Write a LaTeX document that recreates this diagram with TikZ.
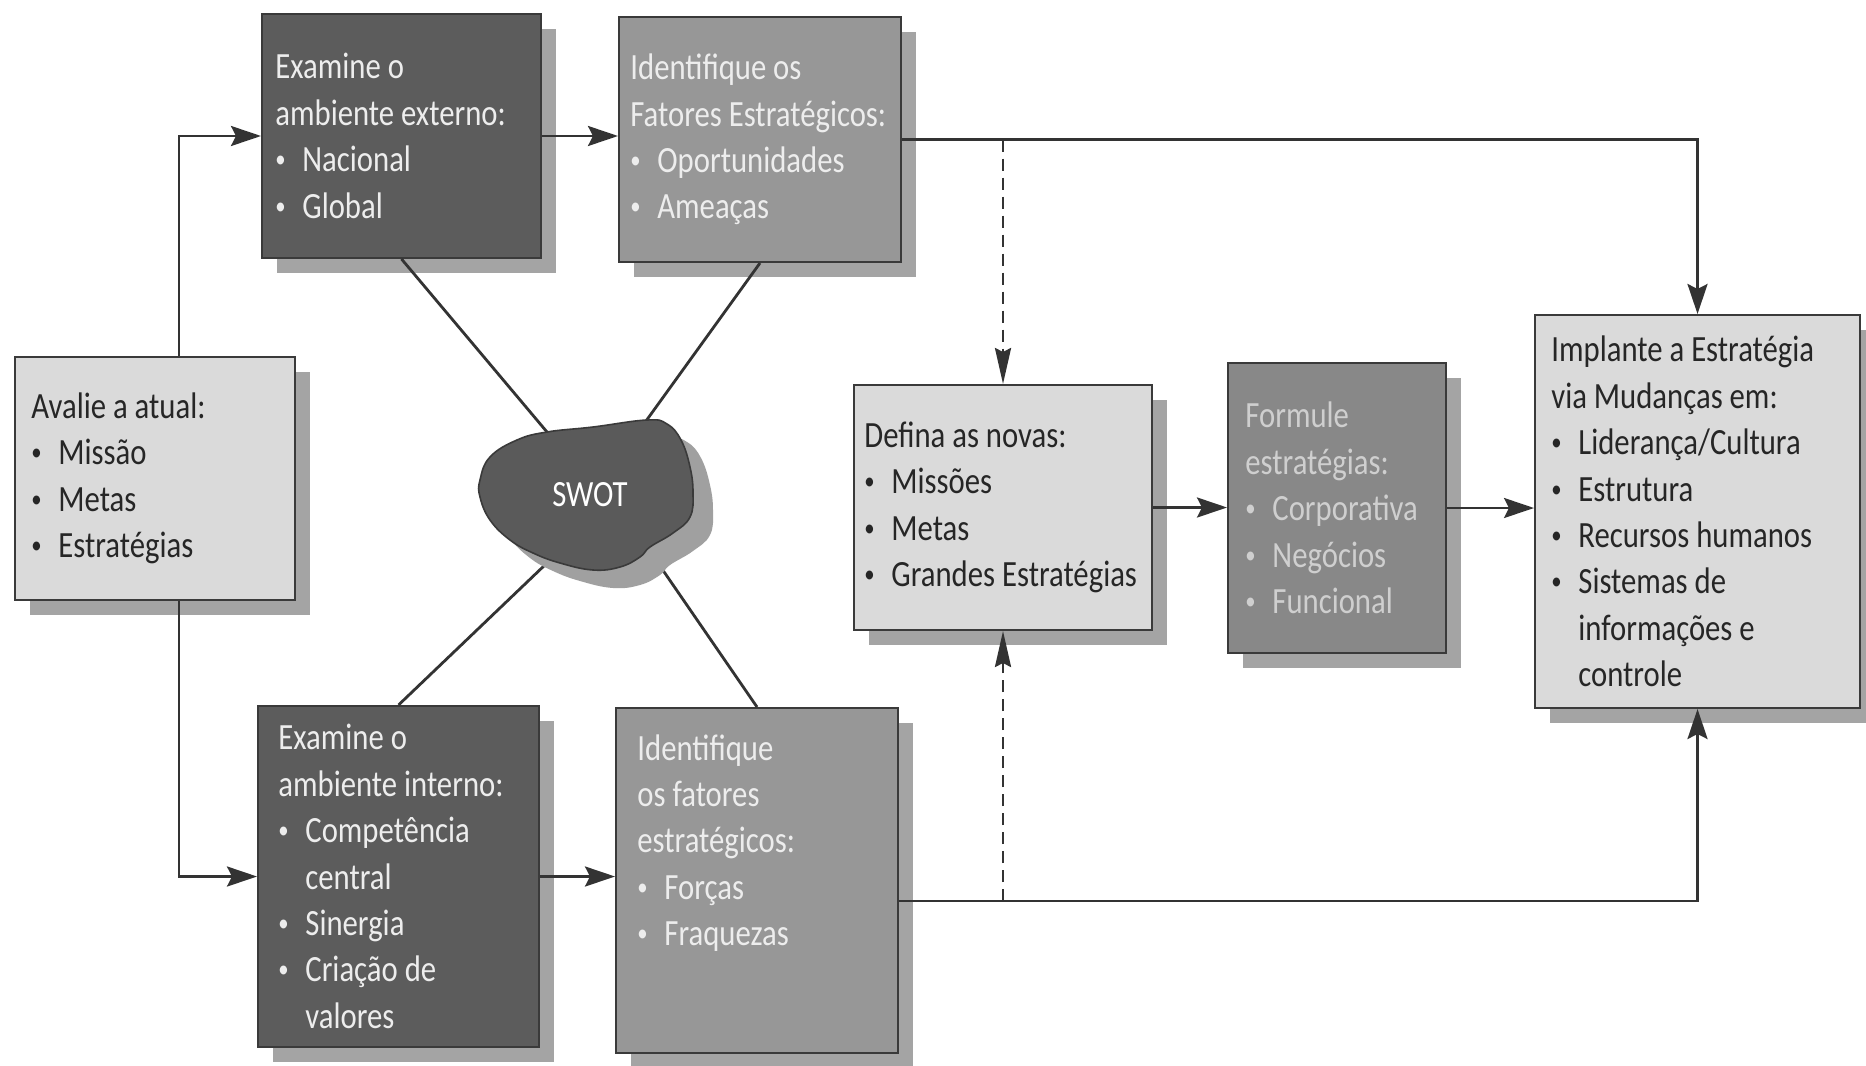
\documentclass[tikz,border=0pt]{standalone}
\usepackage{fontspec}
\setmainfont{Carlito}
\newfontfamily\bxf[FakeStretch=0.83]{Carlito}
\usetikzlibrary{shadows,arrows.meta}
\definecolor{darkf}{HTML}{5C5C5C}
\definecolor{midf}{HTML}{979797}
\definecolor{formf}{HTML}{888888}
\definecolor{lightf}{HTML}{DADADA}
\definecolor{shd}{HTML}{A4A4A4}
\definecolor{bordc}{HTML}{3A3A3A}
\definecolor{linec}{HTML}{333333}
\definecolor{darkt}{HTML}{262626}
\definecolor{litet}{HTML}{EDEDED}
\definecolor{formt}{HTML}{CFCFCF}
\definecolor{blobf}{HTML}{5A5A5A}
\definecolor{blobs}{HTML}{A0A0A0}
\newcommand{\bxfont}{\bxf\fontsize{18.5pt}{23.2pt}\selectfont}
\newcommand{\bul}{\makebox[13.5pt][l]{\raisebox{2.0pt}{\fontsize{12.5pt}{12.5pt}\selectfont •}}}
\newcommand{\ind}{\hspace*{13.5pt}}
\begin{document}
\begin{tikzpicture}[x=0.5pt,y=-0.5pt,
  box/.style={draw=bordc, line width=1pt, rectangle, inner sep=0pt,
    general shadow={fill=shd, shadow xshift=7.5pt, shadow yshift=-7.5pt}},
  lightbox/.style={box, fill=lightf},
  darkbox/.style={box, fill=darkf},
  midbox/.style={box, fill=midf},
  formbox/.style={box, fill=formf},
  txt/.style={inner sep=0pt, align=left, font=\bxfont},
  conn/.style={draw=linec, line width=1.4pt},
  arr/.style={conn, -{Stealth[length=15pt,width=10pt,inset=2.5pt]}},
  darr/.style={conn, dash pattern=on 6pt off 3.5pt, -{Stealth[length=18pt,width=8pt,inset=2pt]}}
]
\fill[white] (0,0) rectangle (1866,1065);
\useasboundingbox (0,0) rectangle (1866,1065);

% boxes
\node[lightbox, minimum width=140pt, minimum height=121.5pt] (aval) at (155,478.5) {};
\node[darkbox, minimum width=139.5pt, minimum height=122pt] (ext) at (401.5,136) {};
\node[midbox, minimum width=141pt, minimum height=122.5pt] (idup) at (760,139.5) {};
\node[darkbox, minimum width=140.5pt, minimum height=170.5pt] (extin) at (398.5,876.5) {};
\node[midbox, minimum width=141pt, minimum height=172.5pt] (idlow) at (757,880.5) {};
\node[lightbox, minimum width=149pt, minimum height=122.5pt] (defina) at (1003,507.5) {};
\node[formbox, minimum width=109pt, minimum height=145pt] (form) at (1337,508) {};
\node[lightbox, minimum width=162.5pt, minimum height=196.5pt] (impl) at (1697.5,511.5) {};

% texts
\node[txt, text=darkt, anchor=west] (avalT) at ([xshift=8.5pt]aval.west)
  {Avalie a atual:\\ \bul Missão\\ \bul Metas\\ \bul Estratégias};
\node[txt, text=litet, anchor=west] (extT) at ([xshift=7pt]ext.west)
  {Examine o\\ ambiente externo:\\ \bul Nacional\\ \bul Global};
\node[txt, text=litet, anchor=west] (idupT) at ([xshift=6pt]idup.west)
  {Identifique os\\ Fatores Estratégicos:\\ \bul Oportunidades\\ \bul Ameaças};
\node[txt, text=litet, anchor=west] (extinT) at ([xshift=10.5pt]extin.west)
  {Examine o\\ ambiente interno:\\ \bul Competência\\ \ind central\\ \bul Sinergia\\ \bul Criação de\\ \ind valores};
\node[txt, text=litet, anchor=west] (idlowT) at ([xshift=11pt,yshift=-3pt]idlow.west)
  {Identifique\\ os fatores\\ estratégicos:\\ \bul Forças\\ \bul Fraquezas\\ \mbox{}\\ \mbox{}};
\node[txt, text=darkt, anchor=west] (definaT) at ([xshift=5.5pt]defina.west)
  {Defina as novas:\\ \bul Missões\\ \bul Metas\\ \bul Grandes Estratégias};
\node[txt, text=formt, anchor=west] (formT) at ([xshift=9pt]form.west)
  {Formule\\ estratégias:\\ \bul Corporativa\\ \bul Negócios\\ \bul Funcional};
\node[txt, text=darkt, anchor=west] (implT) at ([xshift=8.5pt]impl.west)
  {Implante a Estratégia\\ via Mudanças em:\\ \bul Liderança/Cultura\\ \bul Estrutura\\ \bul Recursos humanos\\ \bul Sistemas de\\ \ind informações e\\ \ind controle};

% helper coordinates
\coordinate (xL) at (179,0);
\coordinate (yB) at (0,901);
\coordinate (s1) at (547,432);
\coordinate (s2) at (646,421);
\coordinate (s3) at (547,563);
\coordinate (s4) at (649,550);

% connectors
\draw[arr] (aval.north -| xL) |- (ext.west);
\draw[arr] (aval.south -| xL) |- (extin.west);
\draw[arr] (ext.east) -- (ext.east -| idup.west);
\draw[arr] (extin.east) -- (extin.east -| idlow.west);
\draw[arr] (idup.east) -| (impl.north);
\draw[darr] (idup.east -| defina.north) -- (defina.north);
\draw[arr] (idlow.east |- yB) -| (impl.south);
\draw[darr] (defina.south |- yB) -- (defina.south);
\draw[arr] (defina.east) -- (defina.east -| form.west);
\draw[arr] (form.east) -- (form.east -| impl.west);

\draw[conn] (ext.south) -- (s1);
\draw[conn] (idup.south) -- (s2);
\draw[conn] (s3) -- (extin.north);
\draw[conn] (s4) -- (idlow.north);

% SWOT blob
\fill[blobs, shift={(20,18)}] plot[smooth cycle, tension=0.7] coordinates {
 (480,480) (490,457) (517,440) (547,432) (593,427) (647,420) (667,424) (681,440) (690,467) (693,493) (690,517) (673,533) (650,547) (640,557) (620,567) (593,570) (560,563) (533,553) (510,540) (490,520) (480,497)};
\filldraw[fill=blobf, draw=bordc, line width=0.8pt] plot[smooth cycle, tension=0.7] coordinates {
 (480,480) (490,457) (517,440) (547,432) (593,427) (647,420) (667,424) (681,440) (690,467) (693,493) (690,517) (673,533) (650,547) (640,557) (620,567) (593,570) (560,563) (533,553) (510,540) (490,520) (480,497)};
\node[txt, text=white] (swot) at (590,495) {SWOT};
\end{tikzpicture}
\end{document}
